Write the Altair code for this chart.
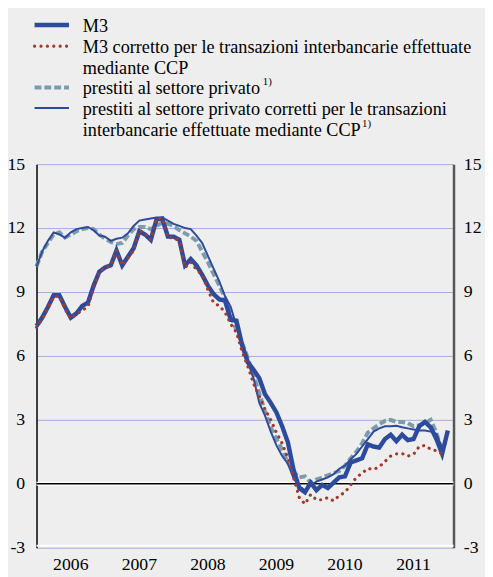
import altair as alt
import pandas as pd

# ---- data (monthly, t=0 -> start of 2006) ----
m3 = [7.4, 7.8, 8.3, 8.85, 8.85, 8.3, 7.8, 8.0, 8.35, 8.5, 9.3, 9.95,
      10.15, 10.25, 10.95, 10.25, 10.65, 11.05, 11.85, 11.7, 11.45, 12.4, 12.45, 11.6,
      11.6, 11.45, 10.25, 10.55, 10.25, 9.8, 9.3, 8.9, 8.65, 8.6, 7.7, 7.65,
      6.5, 5.7, 5.35, 4.95, 4.2, 3.8, 3.35, 2.7, 1.95, 0.65, -0.2, -0.4,
      0.05, -0.3, -0.05, -0.2, 0.05, 0.3, 0.35, 1.0, 1.1, 1.2, 1.85, 1.75,
      1.7, 2.1, 2.3, 2.0, 2.3, 2.05, 2.1, 2.7, 2.9, 2.65, 2.1, 1.4,
      2.5]
m3_ccp = [7.35, 7.75, 8.25, 8.8, 8.8, 8.2, 7.75, 7.95, 8.15, 8.3, 9.2, 9.95,
          10.15, 10.25, 10.95, 10.25, 10.6, 10.95, 11.9, 11.75, 11.45, 12.45, 12.45, 11.55,
          11.55, 11.4, 10.15, 10.4, 10.05, 9.8, 9.1, 8.5, 8.35, 8.05, 7.5, 7.1,
          6.2, 5.5, 4.7, 4.1, 3.5, 3.0, 2.4, 1.9, 1.2, 0.3, -0.65, -0.95,
          -0.5, -0.75, -0.75, -0.65, -0.8, -0.55, -0.4, -0.05, 0.3, 0.5, 0.72, 0.67,
          0.8, 1.05, 1.3, 1.4, 1.42, 1.3, 1.38, 1.75, 1.8, 1.62, 1.55, 1.4]
loans = [10.2, 10.9, 11.3, 11.7, 11.8, 11.55, 11.7, 11.85, 11.95, 12.0, 11.95, 11.7,
         11.5, 11.35, 11.25, 11.3, 11.65, 11.95, 12.05, 12.05, 11.95, 12.1, 12.25, 12.2,
         12.1, 11.9, 11.75, 11.6, 11.4, 10.9, 10.4, 9.85, 9.3, 8.7, 7.9, 7.2,
         6.6, 5.9, 5.1, 4.25, 3.4, 2.65, 2.1, 1.6, 1.0, 0.55, 0.3, 0.35,
         0.05, 0.2, 0.3, 0.4, 0.5, 0.6, 0.85, 1.2, 1.5, 1.9, 2.4, 2.6,
         2.8, 2.95, 3.0, 2.9, 2.9, 2.85, 2.7, 2.75, 2.85, 3.0, 2.4, 1.5]
loans_ccp = [10.2, 10.9, 11.4, 11.8, 11.7, 11.55, 11.8, 11.95, 12.0, 12.05, 11.9, 11.65,
             11.6, 11.4, 11.5, 11.55, 11.75, 12.1, 12.35, 12.4, 12.45, 12.5, 12.5, 12.35,
             12.2, 12.1, 12.0, 11.95, 11.65, 11.3, 10.7, 10.1, 9.5, 8.8, 8.3, 7.4,
             6.6, 5.7, 4.95, 3.8, 3.2, 2.45, 1.8, 1.3, 0.95, 0.25, -0.1, -0.3,
             -0.05, 0.1, 0.2, 0.3, 0.45, 0.7, 0.85, 1.15, 1.4, 1.75, 2.1, 2.45,
             2.6, 2.7, 2.7, 2.72, 2.65, 2.6, 2.55, 2.5, 2.5, 2.45, 2.35, 1.7]

years = ["2006", "2007", "2008", "2009", "2010", "2011"]
year_ticks = [0, 12, 24, 36, 48, 60, 72]
y_ticks = [-3, 0, 3, 6, 9, 12, 15]

legend_labels = [
    "M3",
    "M3 corretto per le transazioni interbancarie effettuate",
    "mediante CCP",
    "prestiti al settore privato",
    "prestiti al settore privato corretti per le transazioni",
    "interbancarie effettuate mediante CCP",
]

# ---- styling ----
BLUE = "#2d4b9e"
RED = "#a33a2c"
GREYBLUE = "#7d9cab"
GRID = "#a7abdb"
FONT = "Liberation Serif"
FS = 18
LFS = 18.5
W, H = 424, 390

xsc = alt.Scale(domain=[0, 73], nice=False, zero=False)
ysc = alt.Scale(domain=[-3, 15], nice=False, zero=False)


def series_df(vals):
    return pd.DataFrame({"t": list(range(len(vals))), "v": vals})


left_axis = alt.Axis(values=y_ticks, grid=True, gridColor=GRID, gridWidth=1,
                     domain=True, domainColor="black", domainWidth=1.5,
                     ticks=False, labelPadding=12, labelFont=FONT, labelFontSize=FS,
                     labelColor="black", title=None, labelExpr="toString(datum.value)")
bottom_axis = alt.Axis(values=year_ticks, grid=True, gridColor=GRID, gridWidth=1,
                       domain=True, domainColor="black", domainWidth=1.5,
                       ticks=True, tickColor="black", tickWidth=1.5, tickSize=6,
                       labels=False, title=None)
right_axis = alt.Axis(values=y_ticks, orient="right", grid=False,
                      domain=True, domainColor="#555555", domainWidth=2.5,
                      ticks=False, labelPadding=10, labelFont=FONT, labelFontSize=FS,
                      labelColor="black", title=None, labelExpr="toString(datum.value)")

# base layer with left & bottom axes (grid)
base = alt.Chart(series_df(loans)).mark_line(opacity=0).encode(
    x=alt.X("t:Q", scale=xsc, axis=bottom_axis),
    y=alt.Y("v:Q", scale=ysc, axis=left_axis),
)
right = alt.Chart(series_df(loans)).mark_line(opacity=0).encode(
    x=alt.X("t:Q", scale=xsc, axis=None),
    y=alt.Y("v:Q", scale=ysc, axis=right_axis),
)

zero_df = pd.DataFrame({"v": [0]})
zero_white = alt.Chart(zero_df).mark_rule(color="white", strokeWidth=4).encode(
    y=alt.Y("v:Q", scale=ysc, axis=None))
zero_black = alt.Chart(zero_df).mark_rule(color="black", strokeWidth=1.5).encode(
    y=alt.Y("v:Q", scale=ysc, axis=None))
bot_df = pd.DataFrame({"v": [-3]})
bot_white = alt.Chart(bot_df).mark_rule(color="white", strokeWidth=2, yOffset=-2).encode(
    y=alt.Y("v:Q", scale=ysc, axis=None))


def line(vals, **kw):
    return alt.Chart(series_df(vals)).mark_line(**kw).encode(
        x=alt.X("t:Q", scale=xsc, axis=None),
        y=alt.Y("v:Q", scale=ysc, axis=None),
    )


l_loans = line(loans, color=GREYBLUE, strokeWidth=4, strokeDash=[7, 3])
l_loans_ccp = line(loans_ccp, color=BLUE, strokeWidth=2)
l_m3 = line(m3, color=BLUE, strokeWidth=4.5)
l_m3_ccp = line(m3_ccp, color=RED, strokeWidth=3.2, strokeDash=[0.1, 6.4], strokeCap="round")

year_df = pd.DataFrame({"t": [6 + 12 * i for i in range(len(years))], "label": years})
year_text = alt.Chart(year_df).mark_text(font=FONT, fontSize=FS, color="black",
                                         baseline="middle", align="center").encode(
    x=alt.X("t:Q", scale=xsc, axis=None),
    y=alt.value(H + 18),
    text="label:N",
)

# ---- custom legend ----
row_y = [-141.5, -120, -99, -78, -57, -36]
sym_rows = [(0, dict(color=BLUE, strokeWidth=4.5)),
            (1, dict(color=RED, strokeWidth=3.2, strokeDash=[0.1, 6.4], strokeCap="round")),
            (3, dict(color=GREYBLUE, strokeWidth=4, strokeDash=[7, 3])),
            (4, dict(color=BLUE, strokeWidth=2))]
leg_layers = []
one = pd.DataFrame({"a": [0]})
for r, style in sym_rows:
    leg_layers.append(alt.Chart(one).mark_rule(**style).encode(
        x=alt.value(-2), x2=alt.value(33), y=alt.value(row_y[r])))
for i, lab in enumerate(legend_labels):
    leg_layers.append(alt.Chart(pd.DataFrame({"label": [lab]})).mark_text(
        font=FONT, fontSize=LFS, color="black", align="left", baseline="middle").encode(
        x=alt.value(47), y=alt.value(row_y[i] + 1), text="label:N"))
sup = [(3, 230), (5, 331)]
for r, xx in sup:
    leg_layers.append(alt.Chart(pd.DataFrame({"label": ["1)"]})).mark_text(
        font=FONT, fontSize=11, color="black", align="left", baseline="middle").encode(
        x=alt.value(xx), y=alt.value(row_y[r] - 5), text="label:N"))

chart = alt.layer(
    base, zero_white, zero_black, bot_white,
    l_loans, l_loans_ccp, l_m3, l_m3_ccp,
    right, year_text, *leg_layers
).resolve_scale(y="independent").properties(
    width=W, height=H,
    background="#eeeeee",
    padding={"left": 29, "top": 154, "right": 32, "bottom": 25},
    autosize=alt.AutoSizeParams(type="none"),
).configure(font=FONT).configure_view(stroke=None)

chart.save("out.html", embed_options={"renderer": "svg", "actions": False})
